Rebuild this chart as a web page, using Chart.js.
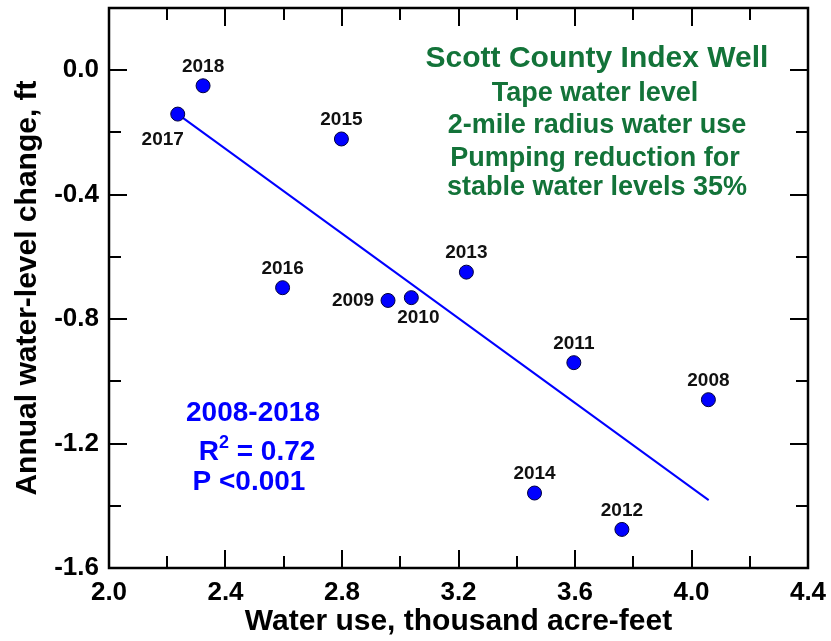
<!DOCTYPE html>
<html>
<head>
<meta charset="utf-8">
<script src="https://cdn.jsdelivr.net/npm/chart.js@4.4.1/dist/chart.umd.min.js"></script>
<style>
  html, body { margin: 0; padding: 0; background: #ffffff; }
  #wrap { width: 831px; height: 641px; }
</style>
</head>
<body>
<div id="wrap"><canvas id="c" width="831" height="641"></canvas></div>
<script>
// Scott County index well: annual water-level change vs. water use
const years = ['2008', '2009', '2010', '2011', '2012', '2013', '2014', '2015', '2016', '2017', '2018'];
const waterUse = [4.058, 2.958, 3.038, 3.596, 3.761, 3.227, 3.461, 2.798, 2.596, 2.236, 2.323];
const levelChange = [-1.059, -0.740, -0.731, -0.940, -1.476, -0.649, -1.359, -0.221, -0.699, -0.141, -0.050];

// fitted regression line endpoints
const trendX = [2.236, 4.059];
const trendY = [-0.141, -1.382];

const xTicks = [2.0, 2.4, 2.8, 3.2, 3.6, 4.0, 4.4];
const yTicks = [-1.6, -1.2, -0.8, -0.4, 0.0];

const FONT = "'Liberation Sans', Arial, Helvetica, sans-serif";
const BLUE = '#0000ff';
const GREEN = '#137339';

// where each year label sits relative to its dot (pixels)
const labelOffset = { '2017': [-15, 26], '2009': [-35, 0], '2010': [7, 20] };

const boxAndLabels = {
  id: 'boxAndLabels',
  beforeDatasetsDraw(chart) {
    const { ctx, chartArea: a, scales: { x, y } } = chart;
    ctx.save();
    ctx.strokeStyle = '#000';
    ctx.lineWidth = 2;
    const major = 18, minor = 12;
    const xs = [], ys = [];
    xTicks.forEach((v, i) => {
      xs.push([v, major]);
      if (i < xTicks.length - 1) xs.push([(v + xTicks[i + 1]) / 2, minor]);
    });
    yTicks.forEach((v, i) => {
      ys.push([v, major]);
      if (i < yTicks.length - 1) ys.push([(v + yTicks[i + 1]) / 2, minor]);
    });
    ctx.beginPath();
    xs.forEach(([v, len]) => {
      const px = Math.round(x.getPixelForValue(v));
      ctx.moveTo(px, a.bottom); ctx.lineTo(px, a.bottom - len);
      ctx.moveTo(px, a.top); ctx.lineTo(px, a.top + len);
    });
    ys.forEach(([v, len]) => {
      const py = Math.round(y.getPixelForValue(v));
      ctx.moveTo(a.left, py); ctx.lineTo(a.left + len, py);
      ctx.moveTo(a.right, py); ctx.lineTo(a.right - len, py);
    });
    ctx.stroke();
    ctx.lineWidth = 2.5;
    ctx.strokeRect(a.left, a.top, a.right - a.left, a.bottom - a.top);
    ctx.restore();
  },
  afterDatasetsDraw(chart) {
    const { ctx, scales: { x, y } } = chart;
    ctx.save();
    ctx.textAlign = 'center';
    ctx.textBaseline = 'middle';

    // year labels
    ctx.fillStyle = '#111';
    ctx.font = `bold 19px ${FONT}`;
    years.forEach((yr, i) => {
      const off = labelOffset[yr] || [0, -19];
      const px = x.getPixelForValue(waterUse[i]) + off[0];
      const py = y.getPixelForValue(levelChange[i]) + off[1];
      ctx.fillText(yr, px, py);
    });

    // well description
    ctx.fillStyle = GREEN;
    ctx.font = `bold 30px ${FONT}`;
    ctx.fillText('Scott County Index Well', 597, 59);
    ctx.font = `bold 27px ${FONT}`;
    ctx.fillText('Tape water level', 595, 94);
    ctx.fillText('2-mile radius water use', 597, 126);
    ctx.fillText('Pumping reduction for', 595, 159);
    ctx.fillText('stable water levels 35%', 597, 188);

    // regression statistics
    ctx.fillStyle = BLUE;
    ctx.font = `bold 28px ${FONT}`;
    ctx.fillText('2008-2018', 253, 413);
    ctx.fillText('P <0.001', 249, 482);
    // R squared with raised exponent
    const big = `bold 28px ${FONT}`, small = `bold 18px ${FONT}`;
    ctx.font = big;
    const wR = ctx.measureText('R').width;
    const wRest = ctx.measureText(' = 0.72').width;
    ctx.font = small;
    const w2 = ctx.measureText('2').width;
    const sx = 257 - (wR + w2 + wRest) / 2;
    ctx.textAlign = 'left';
    ctx.font = big;
    ctx.fillText('R', sx, 452);
    ctx.font = small;
    ctx.fillText('2', sx + wR, 443);
    ctx.font = big;
    ctx.fillText(' = 0.72', sx + wR + w2, 452);
    ctx.restore();
  }
};

new Chart(document.getElementById('c'), {
  type: 'scatter',
  data: {
    datasets: [
      {
        label: 'Annual change',
        data: waterUse.map((v, i) => ({ x: v, y: levelChange[i] })),
        backgroundColor: BLUE,
        borderColor: '#00003c',
        borderWidth: 1,
        pointRadius: 7,
        order: 0
      },
      {
        type: 'line',
        label: 'Regression',
        data: trendX.map((v, i) => ({ x: v, y: trendY[i] })),
        borderColor: BLUE,
        borderWidth: 2,
        pointRadius: 0,
        fill: false,
        order: 1
      }
    ]
  },
  options: {
    responsive: false,
    animation: false,
    devicePixelRatio: 1,
    layout: { padding: { left: 0, right: 23, top: 7, bottom: 0 } },
    plugins: { legend: { display: false }, tooltip: { enabled: false } },
    scales: {
      x: {
        type: 'linear',
        min: 2.0,
        max: 4.4,
        afterBuildTicks: s => { s.ticks = xTicks.map(v => ({ value: v })); },
        afterFit: s => { s.height = 73; s.paddingLeft = 0; s.paddingRight = 0; },
        grid: { display: false, drawTicks: false },
        border: { display: false },
        ticks: {
          padding: 9,
          color: '#000',
          autoSkip: false,
          maxRotation: 0,
          font: { family: FONT, size: 26, weight: 'bold' },
          callback: v => Number(v).toFixed(1)
        },
        title: {
          display: true,
          text: 'Water use, thousand acre-feet',
          color: '#000',
          font: { family: FONT, size: 30, weight: 'bold' },
          padding: { top: 0, bottom: 1 }
        }
      },
      y: {
        type: 'linear',
        min: -1.6,
        max: 0.2,
        afterBuildTicks: s => { s.ticks = yTicks.map(v => ({ value: v })); },
        afterFit: s => { s.width = 109; s.paddingTop = 0; s.paddingBottom = 0; },
        grid: { display: false, drawTicks: false },
        border: { display: false },
        ticks: {
          padding: 10,
          color: '#000',
          autoSkip: false,
          font: { family: FONT, size: 26, weight: 'bold' },
          callback: v => Number(v).toFixed(1)
        },
        title: {
          display: true,
          text: 'Annual water-level change, ft',
          color: '#000',
          font: { family: FONT, size: 30, weight: 'bold' },
          padding: { top: 10, bottom: 0 }
        }
      }
    }
  },
  plugins: [boxAndLabels]
});
</script>
</body>
</html>
